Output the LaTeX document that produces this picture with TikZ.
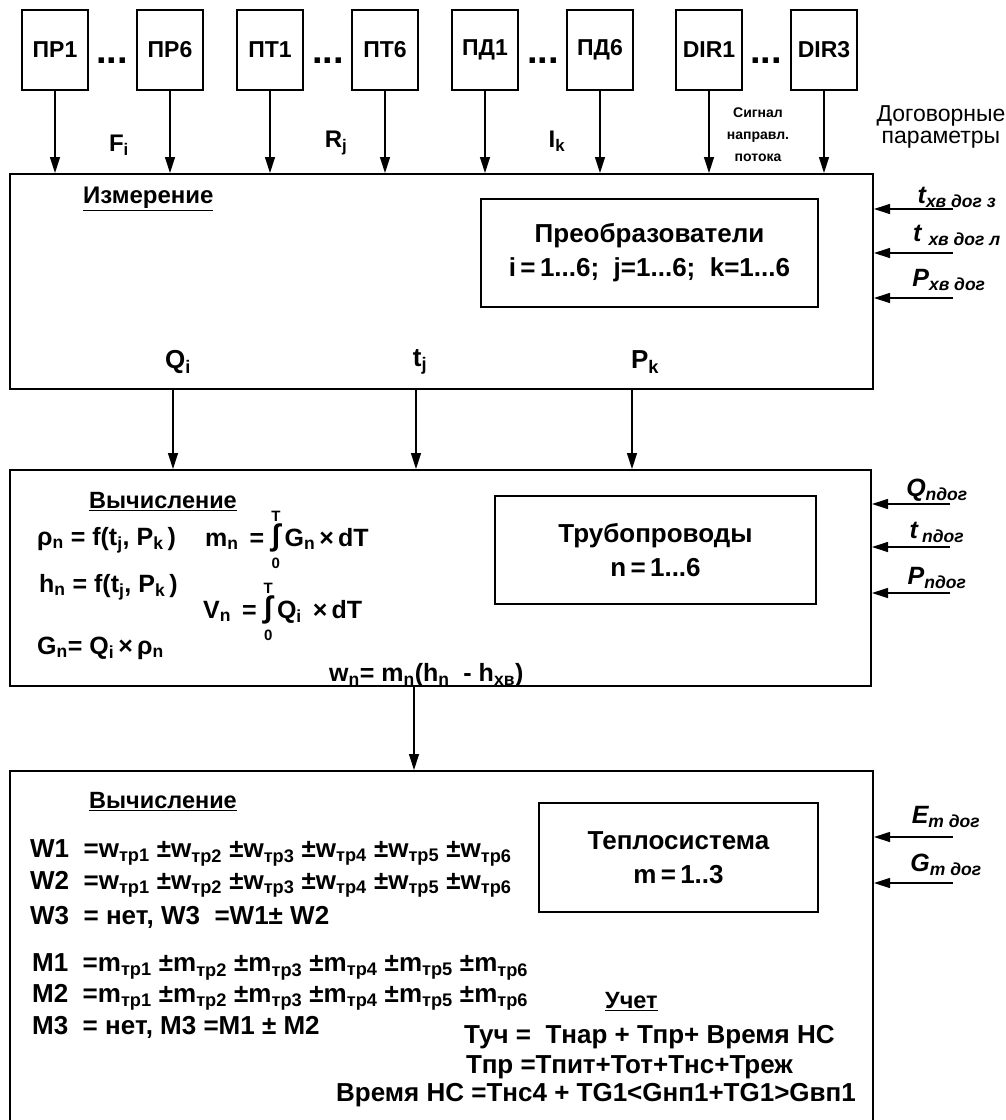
\documentclass[tikz,border=0pt]{standalone}
\usepackage{fontspec}
\setmainfont{Liberation Sans}
\usepackage{tikz}
\usetikzlibrary{shapes.geometric, arrows, arrows.meta, positioning}
\newcommand{\fsz}[2]{\fontsize{#1}{#2}\selectfont}
\newcommand{\sbs}[1]{\textsubscript{#1}}
\newcommand{\intT}{\begin{tabular}[c]{@{}c@{}}\fsz{15}{15}T\\[-5pt]\fsz{30}{15}∫\\[-2pt]\fsz{15}{15}0\end{tabular}}
\tikzstyle{sensor} = [rectangle, draw=black, line width=1.3pt, minimum width=66pt, minimum height=80pt,
                      font=\bfseries\fsz{23}{23}]
\tikzstyle{bigbox} = [rectangle, draw=black, line width=2pt, anchor=north west, inner sep=0pt]
\tikzstyle{subbox} = [rectangle, draw=black, line width=1.3pt, align=center, inner sep=0pt,
                      font=\bfseries\fsz{26}{34}]
\tikzstyle{arrow} = [->, >={Triangle[length=16pt,width=10pt]}, line width=1.2pt]
\tikzstyle{lbl} = [inner sep=0pt, font=\bfseries\fsz{24}{24}]
\tikzstyle{formula} = [inner sep=0pt, anchor=west, font=\bfseries\fsz{26}{26}]
\tikzstyle{heading} = [inner sep=0pt, anchor=west, font=\bfseries\fsz{23.5}{23.5}]
\tikzstyle{contract} = [inner sep=0pt, font=\bfseries\itshape\fsz{25}{25}]
\tikzstyle{dots} = [inner sep=0pt, font=\bfseries\fsz{38}{38}]

\begin{document}
\begin{tikzpicture}[x=1pt, y=-1pt, node distance=115pt]
  \useasboundingbox (0,0) rectangle (1006,1120);

  % sensors
  \node (pr1) [sensor] at (55,50) {ПР1};
  \node (pr6) [sensor, right of=pr1] {ПР6};
  \node (pt1) [sensor] at (270,50) {ПТ1};
  \node (pt6) [sensor, right of=pt1] {ПТ6};
  \node (pd1) [sensor] at (485,50) {ПД1};
  \node (pd6) [sensor, right of=pd1] {ПД6};
  \node (dir1) [sensor] at (709,50) {DIR1};
  \node (dir3) [sensor, right of=dir1] {DIR3};
  \node (dots1) [dots] at (112,61) {...};
  \node (dots2) [dots] at (328,61) {...};
  \node (dots3) [dots] at (543,61) {...};
  \node (dots4) [dots] at (766,61) {...};

  \node (fi) [lbl] at (119,145) {F\sbs{i}};
  \node (rj) [lbl] at (336,143) {R\sbs{j}};
  \node (ik) [lbl] at (557,141) {I\sbs{k}};
  \node (dirsig) [align=center, inner sep=0pt, font=\bfseries\fsz{14}{22}] at (758,135) {Сигнал\\направл.\\потока};
  \node (contr) [align=center, inner sep=0pt, font=\fsz{23}{22}] at (941,127) {Договорные\\параметры};

  % measurement
  \node (meas) [bigbox, minimum width=863pt, minimum height=215pt] at (9,173) {};
  \node (meastitle) [heading, font=\bfseries\fsz{24}{24}] at (83,199) {\underline{Измерение}};
  \node (conv) [subbox, minimum width=337pt, minimum height=108pt] at (649.5,253)
        {Преобразователи\\i\,=\,1...6;\ \ j=1...6;\ \ k=1...6};
  \node (qi) [lbl, font=\bfseries\fsz{26}{26}] at (178,362) {Q\sbs{i}};
  \node (tj) [lbl, font=\bfseries\fsz{26}{26}] at (420,362) {t\sbs{j}};
  \node (pk) [lbl, font=\bfseries\fsz{26}{26}] at (645,362) {P\sbs{k}};

  \node (tz) [contract] at (957,197) {t\sbs{хв дог з}};
  \node (tl) [contract] at (957,235) {t \sbs{хв дог л}};
  \node (px) [contract] at (949,280) {P\sbs{хв дог}};
  \coordinate (intz) at (953,209);
  \coordinate (intl) at (953,253);
  \coordinate (inpx) at (953,298);

  \foreach \s in {pr1,pr6,pt1,pt6,pd1,pd6,dir1,dir3}
    \draw [arrow] (\s.south) -- (\s.south |- meas.north);
  \foreach \c in {intz,intl,inpx}
    \draw [arrow] (\c) -- (\c -| meas.east);

  % calculation of pipelines
  \node (calc) [bigbox, minimum width=861pt, minimum height=216pt] at (9,469) {};
  \coordinate (qout) at (173,388);
  \coordinate (tout) at (416,388);
  \coordinate (pout) at (632,388);
  \foreach \c in {qout,tout,pout}
    \draw [arrow] (\c) -- (\c |- calc.north);

  \node (calctitle) [heading] at (89,502) {\underline{Вычисление}};
  \node (rho) [formula, font=\bfseries\fsz{25}{25}] at (37,540) {ρ\sbs{n} = f(t\sbs{j}, P\sbs{k}\,)};
  \node (mn) [formula, font=\bfseries\fsz{25}{25}] at (205,540) {m\sbs{n} \,= \intT\,G\sbs{n}\,×\,dT};
  \node (hn) [formula, font=\bfseries\fsz{25}{25}] at (39,587) {h\sbs{n} = f(t\sbs{j}, P\sbs{k}\,)};
  \node (vn) [formula, font=\bfseries\fsz{25}{25}] at (203,612) {V\sbs{n} \,= \intT\,Q\sbs{i} \,×\,dT};
  \node (gn) [formula, font=\bfseries\fsz{25}{25}] at (37,648) {G\sbs{n}= Q\sbs{i}\,×\,ρ\sbs{n}};
  \node (wn) [formula, font=\bfseries\fsz{25}{25}] at (329,675) {w\sbs{n}= m\sbs{n}(h\sbs{n}\ \ - h\sbs{хв})};
  \node (pipes) [subbox, minimum width=321pt, minimum height=108pt] at (655.5,550)
        {Трубопроводы\\n\,=\,1...6};

  \node (qn) [contract] at (937,490) {Q\sbs{nдог}};
  \node (tn) [contract] at (937,532) {t\,\sbs{nдог}};
  \node (pn) [contract] at (937,578) {P\sbs{nдог}};
  \coordinate (inqn) at (950,504);
  \coordinate (intn) at (950,547);
  \coordinate (inpn) at (950,593);
  \foreach \c in {inqn,intn,inpn}
    \draw [arrow] (\c) -- (\c -| calc.east);

  % heat system
  \node (heat) [bigbox, minimum width=863pt, minimum height=370pt] at (9,770) {};
  \coordinate (wout) at (414,685);
  \draw [arrow] (wout) -- (wout |- heat.north);

  \node (heattitle) [heading] at (89,802) {\underline{Вычисление}};
  \node (w1) [formula] at (30,853) {W1 \ =w\sbs{тр1} ±w\sbs{тр2} ±w\sbs{тр3} ±w\sbs{тр4} ±w\sbs{тр5} ±w\sbs{тр6}};
  \node (w2) [formula] at (30,884) {W2 \ =w\sbs{тр1} ±w\sbs{тр2} ±w\sbs{тр3} ±w\sbs{тр4} ±w\sbs{тр5} ±w\sbs{тр6}};
  \node (w3) [formula] at (30,917) {W3 \ = нет, W3 \ =W1± W2};
  \node (m1) [formula] at (32,967) {M1 \ =m\sbs{тр1} ±m\sbs{тр2} ±m\sbs{тр3} ±m\sbs{тр4} ±m\sbs{тр5} ±m\sbs{тр6}};
  \node (m2) [formula] at (32,997) {M2 \ =m\sbs{тр1} ±m\sbs{тр2} ±m\sbs{тр3} ±m\sbs{тр4} ±m\sbs{тр5} ±m\sbs{тр6}};
  \node (m3) [formula] at (32,1027) {M3 \ = нет, M3 =M1 ± M2};
  \node (system) [subbox, minimum width=279pt, minimum height=109pt] at (678.5,857.5)
        {Теплосистема\\m\,=\,1..3};

  \node (acct) [heading] at (605,1002) {\underline{Учет}};
  \node (tuch) [formula] at (464,1037) {Туч =\ \ Тнар + Тпр+ Время НС};
  \node (tpr) [formula] at (466,1067) {Тпр =Тпит+Тот+Тнс+Треж};
  \node (tnc) [formula] at (336,1095) {Время НС =Тнс4 + TG1<Gнп1+TG1>Gвп1};

  \node (em) [contract] at (946,817) {E\sbs{m дог}};
  \node (gm) [contract] at (946,865) {G\sbs{m дог}};
  \coordinate (inem) at (953,837);
  \coordinate (ingm) at (953,883);
  \foreach \c in {inem,ingm}
    \draw [arrow] (\c) -- (\c -| heat.east);
\end{tikzpicture}
\end{document}
